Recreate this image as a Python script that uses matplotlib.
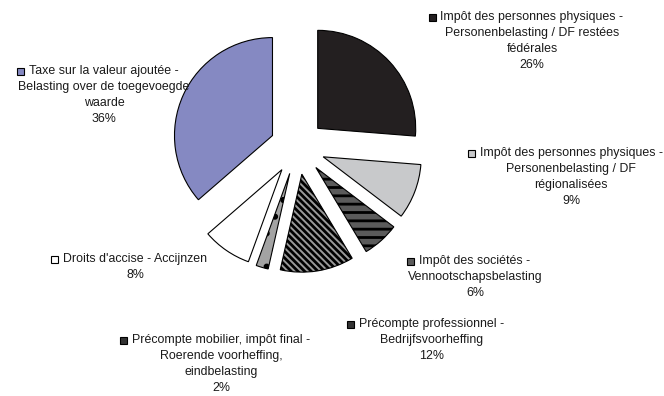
import matplotlib
matplotlib.use('Agg')
import matplotlib.pyplot as plt
from matplotlib.patches import Rectangle

plt.rcParams['font.family'] = ['Liberation Sans', 'DejaVu Sans']
plt.rcParams['hatch.linewidth'] = 2.0

categories = [
    "Impôt des personnes physiques -\nPersonenbelasting / DF restées\nfédérales",
    "Impôt des personnes physiques -\nPersonenbelasting / DF\nrégionalisées",
    "Impôt des sociétés -\nVennootschapsbelasting",
    "Précompte professionnel -\nBedrijfsvoorheffing",
    "Précompte mobilier, impôt final -\nRoerende voorheffing,\neindbelasting",
    "Droits d'accise - Accijnzen",
    "Taxe sur la valeur ajoutée -\nBelasting over de toegevoegde\nwaarde",
]
values = [26, 9, 6, 12, 2, 8, 36]

colors = ['#231f20', '#c8c9cb', '#5b5b5b', '#9a9a9a', '#a3a3a3', '#ffffff', '#8589c2']
hatches = [None, None, '--', '\\\\\\\\\\', '.', None, None]
marker_colors = ['#231f20', '#c8c9cb', '#5b5b5b', '#333333', '#333333', '#ffffff', '#8589c2']

# label centres in pixels (x from left, y from top)
label_pos = [(532, 41), (571, 177), (475, 277), (432, 340), (221, 364), (135, 267), (104, 95)]

W, H = 664, 396
fig = plt.figure(figsize=(W / 100, H / 100), dpi=100)
ax = fig.add_axes([0, 0, 1, 1])
wedges, _ = ax.pie(values, colors=colors, startangle=90, counterclock=False,
                   center=(297.5, H - 147), radius=98, explode=[27.5] * len(values),
                   wedgeprops=dict(edgecolor='black', linewidth=0.8), frame=True)
for w, h in zip(wedges, hatches):
    if h:
        w.set_hatch(h)
ax.set_xlim(0, W)
ax.set_ylim(0, H)
ax.axis('off')

fs = 8.9
texts = []
for cat, v, (px, py) in zip(categories, values, label_pos):
    t = ax.text(px, H - py, f"{cat}\n{v}%", ha='center', va='center',
                multialignment='center', fontsize=fs, color='#1a1a1a', linespacing=1.45)
    texts.append(t)

fig.canvas.draw()
renderer = fig.canvas.get_renderer()
for t, cat, mc in zip(texts, categories, marker_colors):
    first = cat.split('\n')[0]
    w1, h1, d1 = renderer.get_text_width_height_descent(first, t.get_fontproperties(), ismath=False)
    wl, hl, dl = renderer.get_text_width_height_descent("lp", t.get_fontproperties(), ismath=False)
    bb = t.get_window_extent(renderer)
    cx = (bb.x0 + bb.x1) / 2
    ytop = bb.y1
    ymid = ytop - hl / 2 - 1
    s = 7
    ax.add_patch(Rectangle((cx - w1 / 2 - 5 - s, ymid - s / 2), s, s,
                           facecolor=mc, edgecolor='black', linewidth=0.8))

fig.savefig('out.png', dpi=100)
